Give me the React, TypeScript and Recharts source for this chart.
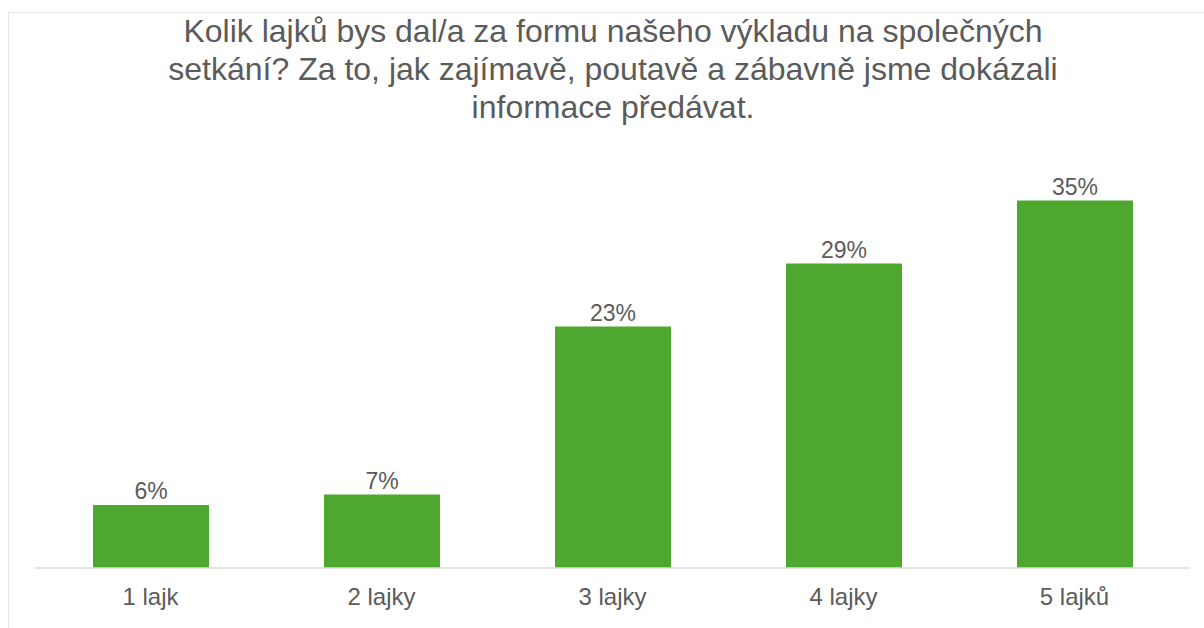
import { Bar, BarChart, LabelList, XAxis, YAxis } from "recharts";

const TITLE_LINES = [
  "Kolik lajků bys dal/a za formu našeho výkladu na společných",
  "setkání? Za to, jak zajímavě, poutavě a zábavně jsme dokázali",
  "informace předávat.",
];

const CATEGORIES = ["1 lajk", "2 lajky", "3 lajky", "4 lajky", "5 lajků"];
const PERCENTS = [6, 7, 23, 29, 35];

const BAR_COLOR = "#4ea72e";
const TEXT_COLOR = "#5b5b5b";
const FONT = "'Liberation Sans', Arial, sans-serif";

const data = CATEGORIES.map((name, i) => ({ name, value: PERCENTS[i] }));

export default function App() {
  return (
    <div
      style={{
        position: "fixed",
        left: 0,
        top: 0,
        width: 1204,
        height: 628,
        background: "#fff",
        overflow: "hidden",
        fontFamily: FONT,
      }}
    >
      <div
        style={{
          position: "absolute",
          left: 8,
          top: 12,
          width: 1220,
          height: 640,
          border: "1px solid #e6e6e6",
        }}
      />
      <div
        style={{
          position: "absolute",
          left: 0,
          top: 12,
          width: 1226,
          textAlign: "center",
          fontSize: 32,
          lineHeight: "38px",
          color: TEXT_COLOR,
          whiteSpace: "nowrap",
        }}
      >
        {TITLE_LINES.map((l) => (
          <div key={l}>{l}</div>
        ))}
      </div>
      <div style={{ position: "absolute", left: 0, top: 0 }}>
        <BarChart
          width={1204}
          height={628}
          data={data}
          margin={{ top: 148, right: 14, bottom: 0, left: 35 }}
          barSize={116}
        >
          <YAxis hide width={0} domain={[0, 40]} />
          <XAxis
            dataKey="name"
            height={60}
            tickLine={false}
            tickSize={0}
            tickMargin={20}
            axisLine={{ stroke: "#dcdcdc", strokeWidth: 1.5 }}
            tick={{ fill: TEXT_COLOR, fontSize: 24, fontFamily: FONT }}
          />
          <Bar dataKey="value" fill={BAR_COLOR} isAnimationActive={false}>
            <LabelList
              dataKey="value"
              position="top"
              offset={6}
              formatter={(v: any) => `${v}%`}
              style={{ fill: TEXT_COLOR, fontSize: 23, fontFamily: FONT }}
            />
          </Bar>
        </BarChart>
      </div>
    </div>
  );
}
